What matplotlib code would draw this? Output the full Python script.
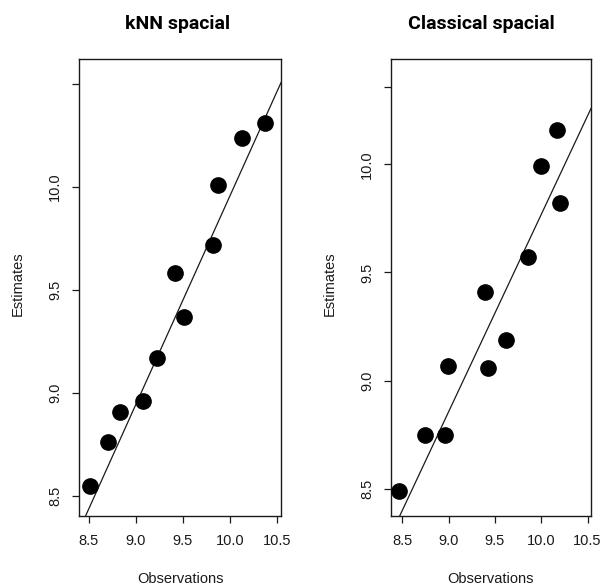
import numpy as np
import matplotlib
matplotlib.use("Agg")
import matplotlib.pyplot as plt

# datos
knn_obs = [8.51, 8.70, 8.83, 9.07, 9.22, 9.42, 9.51, 9.82, 9.87, 10.13, 10.37]
knn_est = [8.55, 8.76, 8.91, 8.96, 9.17, 9.58, 9.37, 9.72, 10.01, 10.24, 10.31]
knn_fit = (-0.158, 1.0115)   # intercepto, pendiente

cls_obs = [8.46, 8.75, 8.96, 8.99, 9.43, 9.39, 9.62, 9.86, 10.00, 10.20, 10.17]
cls_est = [8.49, 8.75, 8.75, 9.07, 9.06, 9.41, 9.19, 9.57, 9.99, 9.82, 10.16]
cls_fit = (0.654, 0.9114)

titles = ["kNN spacial", "Classical spacial"]
xticks = [8.5, 9.0, 9.5, 10.0, 10.5]
xticklabels = ["8.5", "9.0", "9.5", "10.0", "10.5"]
knn_yticks = [8.5, 9.0, 9.5, 10.0, 10.5]
cls_yticks = [8.5, 9.0, 9.5, 10.0, 10.358]
yticklabels = ["8.5", "9.0", "9.5", "10.0", ""]

plt.rcParams['font.family'] = ['Liberation Sans', 'DejaVu Sans']

W, H = 602, 585
fig = plt.figure(figsize=(W / 100, H / 100), dpi=100)

paneles = [
    dict(obs=knn_obs, est=knn_est, fit=knn_fit, yt=knn_yticks,
         box=(79, 281), xlim=(8.394, 10.543), ylim=(8.403, 10.621), tx=178),
    dict(obs=cls_obs, est=cls_est, fit=cls_fit, yt=cls_yticks,
         box=(391, 591), xlim=(8.378, 10.537), ylim=(8.375, 10.486), tx=481),
]

top, bottom = 59, 516
ink = '#1a1a1a'
for i, p in enumerate(paneles):
    x0, x1 = p["box"]
    ax = fig.add_axes([x0 / W, 1 - bottom / H, (x1 - x0) / W, (bottom - top) / H])
    ax.plot(p["obs"], p["est"], 'o', color='black', markersize=11, zorder=3)
    ax.axline((0, p["fit"][0]), slope=p["fit"][1], color=ink, lw=0.9)
    ax.set_xlim(*p["xlim"])
    ax.set_ylim(*p["ylim"])
    ax.set_xticks(xticks)
    ax.set_xticklabels(xticklabels)
    ax.set_yticks(p["yt"])
    ax.set_yticklabels(yticklabels)
    ax.tick_params(direction='out', length=5, width=0.9, color=ink,
                   labelsize=10.5, labelcolor=ink)
    ax.tick_params(axis='x', pad=8)
    ax.tick_params(axis='y', pad=7, labelrotation=90)
    for lbl in ax.get_yticklabels():
        lbl.set_va('center')
    for s in ax.spines.values():
        s.set_linewidth(1.0)
        s.set_color(ink)

    cx = (x0 + x1) / 2
    fig.text(p["tx"] / W, 1 - 24 / H, titles[i], ha='center', va='center',
             fontsize=14, fontweight='bold', family=['Roboto', 'DejaVu Sans'])
    fig.text(cx / W, 1 - 579 / H, "Observations", ha='center', va='center',
             fontsize=10.5, color=ink)
    fig.text((x0 - 61) / W, 1 - 284 / H, "Estimates", ha='center', va='center',
             rotation=90, fontsize=10.5, color=ink)

fig.savefig("out.png", dpi=100, facecolor='white')
